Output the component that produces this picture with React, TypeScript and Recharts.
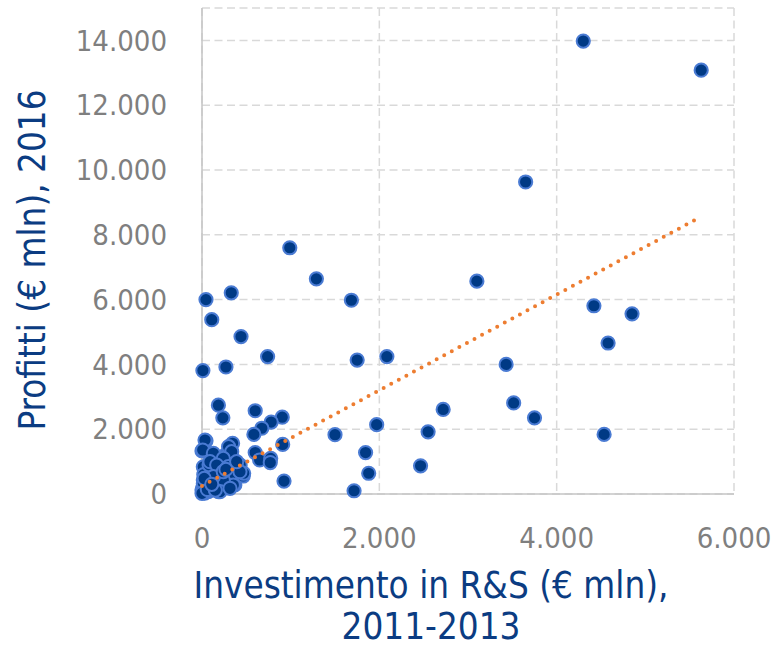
import React from 'react';
import { ScatterChart, Scatter, XAxis, YAxis, CartesianGrid, Label } from 'recharts';

// Investimento in R&S 2011-2013 (€ mln)
const rdInvestment = [
  4300, 5630, 3650, 3100, 4420, 4850, 4580, 3430, 2720, 3515, 3750, 2550, 4535, 2465,
  990, 1290, 1685, 330, 45, 110, 440, 740, 1750, 2085, 10, 270, 185, 235, 600, 905,
  780, 675, 585, 910, 1500, 1970, 1845, 1880, 1715, 925, 600, 650, 775, 770, 345, 45, 0,
  445, 370, 465, 260, 165, 130, 370, 315, 300, 200, 128, 260, 110, 15, 240, 350, 430,
  470, 130, 15, 0, 70, 185, 315, 205, 90, 130, 300, 240, 50, 20, 100, 60, 150, 30, 10,
  240, 180, 80, 35, 120,
  34, 8, 335, 128, 240, 90, 166, 297, 428, 353, 240, 128, 15, 0, 90, 203, 316, 240, 391,
  60, 150, 270, 25, 110,
];

// Profitti 2016 (€ mln)
const profits = [
  13980, 13080, 9630, 6570, 5810, 5560, 4660, 4000, 2610, 2810, 2350, 1920, 1840, 870,
  7600, 6640, 5980, 6210, 6000, 5380, 4860, 4240, 4135, 4240, 3810, 3920, 2740, 2350, 2570, 2370,
  2220, 2030, 1840, 1530, 1830, 2140, 1280, 640, 100, 400, 1280, 1050, 1100, 970, 1565, 1640, 1330,
  690, 280, 555, 840, 535, 1150, 1000, 1200, 640, 330, 1100, 1200, 740, 840, 895, 1050, 895,
  640, 330, 430, 120, 70, 70, 535, 585, 485, 950, 1460, 226, 250, 600, 180, 350, 650, 30, 200,
  400, 950, 900, 60, 450,
  1666, 1358, 1305, 1256, 1100, 997, 895, 842, 689, 278, 432, 534, 330, 22, 123, 71, 175, 689, 997,
  140, 120, 760, 480, 300,
];

// linear trendline endpoints
const trendX = [0, 5630];
const trendY = [250, 8560];

const xTicks = [0, 2000, 4000, 6000];
const yTicks = [0, 2000, 4000, 6000, 8000, 10000, 12000, 14000];

const points = rdInvestment.map((x, i) => ({ x, y: profits[i] }));
const trend = trendX.map((x, i) => ({ x, y: trendY[i] }));

const fmt = (v: number) => String(v).replace(/\B(?=(\d{3})+(?!\d))/g, '.');

const tickFont = "'DejaVu Sans Condensed', 'Liberation Sans', sans-serif";
const navy = '#0B3C82';

const Dot = (p: any) => (
  <circle cx={p.cx} cy={p.cy} r={6.6} fill="#003A85" stroke="#4A7BD3" strokeWidth={2} />
);

const NoDot = () => <g />;

export default function App() {
  return (
    <div style={{ position: 'absolute', left: 0, top: 0, background: '#fff' }}>
      <ScatterChart width={776} height={647} margin={{ top: 8, right: 42, bottom: 0, left: 0 }}>
        <CartesianGrid stroke="#D9D9D9" strokeWidth={1.5} strokeDasharray="8 4.5" />
        <XAxis
          type="number"
          dataKey="x"
          domain={[0, 6000]}
          ticks={xTicks}
          interval={0}
          tickFormatter={fmt}
          height={153}
          tickSize={0}
          tickMargin={33}
          axisLine={{ stroke: '#C4C4C4', strokeWidth: 1.5 }}
          tick={{ fill: '#7F7F7F', fontSize: 29, fontFamily: tickFont }}
        >
          <Label
            content={() => (
              <text fill={navy} fontSize={36.5} fontFamily={tickFont} textAnchor="middle">
                <tspan x={431} y={598}>Investimento in R&amp;S (€ mln),</tspan>
                <tspan x={431} y={639}>2011-2013</tspan>
              </text>
            )}
          />
        </XAxis>
        <YAxis
          type="number"
          dataKey="y"
          domain={[0, 15000]}
          ticks={yTicks}
          interval={0}
          tickFormatter={fmt}
          width={202}
          tickSize={0}
          tickMargin={35}
          axisLine={{ stroke: '#C4C4C4', strokeWidth: 1.5 }}
          tick={{ fill: '#7F7F7F', fontSize: 29, fontFamily: tickFont }}
        >
          <Label
            content={() => (
              <text
                fill={navy}
                fontSize={36.5}
                fontFamily={tickFont}
                textAnchor="middle"
                transform="translate(45,260) rotate(-90)"
              >
                Profitti (€ mln), 2016
              </text>
            )}
          />
        </YAxis>
        <Scatter data={points} shape={Dot} isAnimationActive={false} />
        <Scatter
          data={trend}
          shape={NoDot}
          line={{ stroke: '#ED7D31', strokeWidth: 4, strokeDasharray: '0 8.6', strokeLinecap: 'round' }}
          isAnimationActive={false}
        />
      </ScatterChart>
    </div>
  );
}
